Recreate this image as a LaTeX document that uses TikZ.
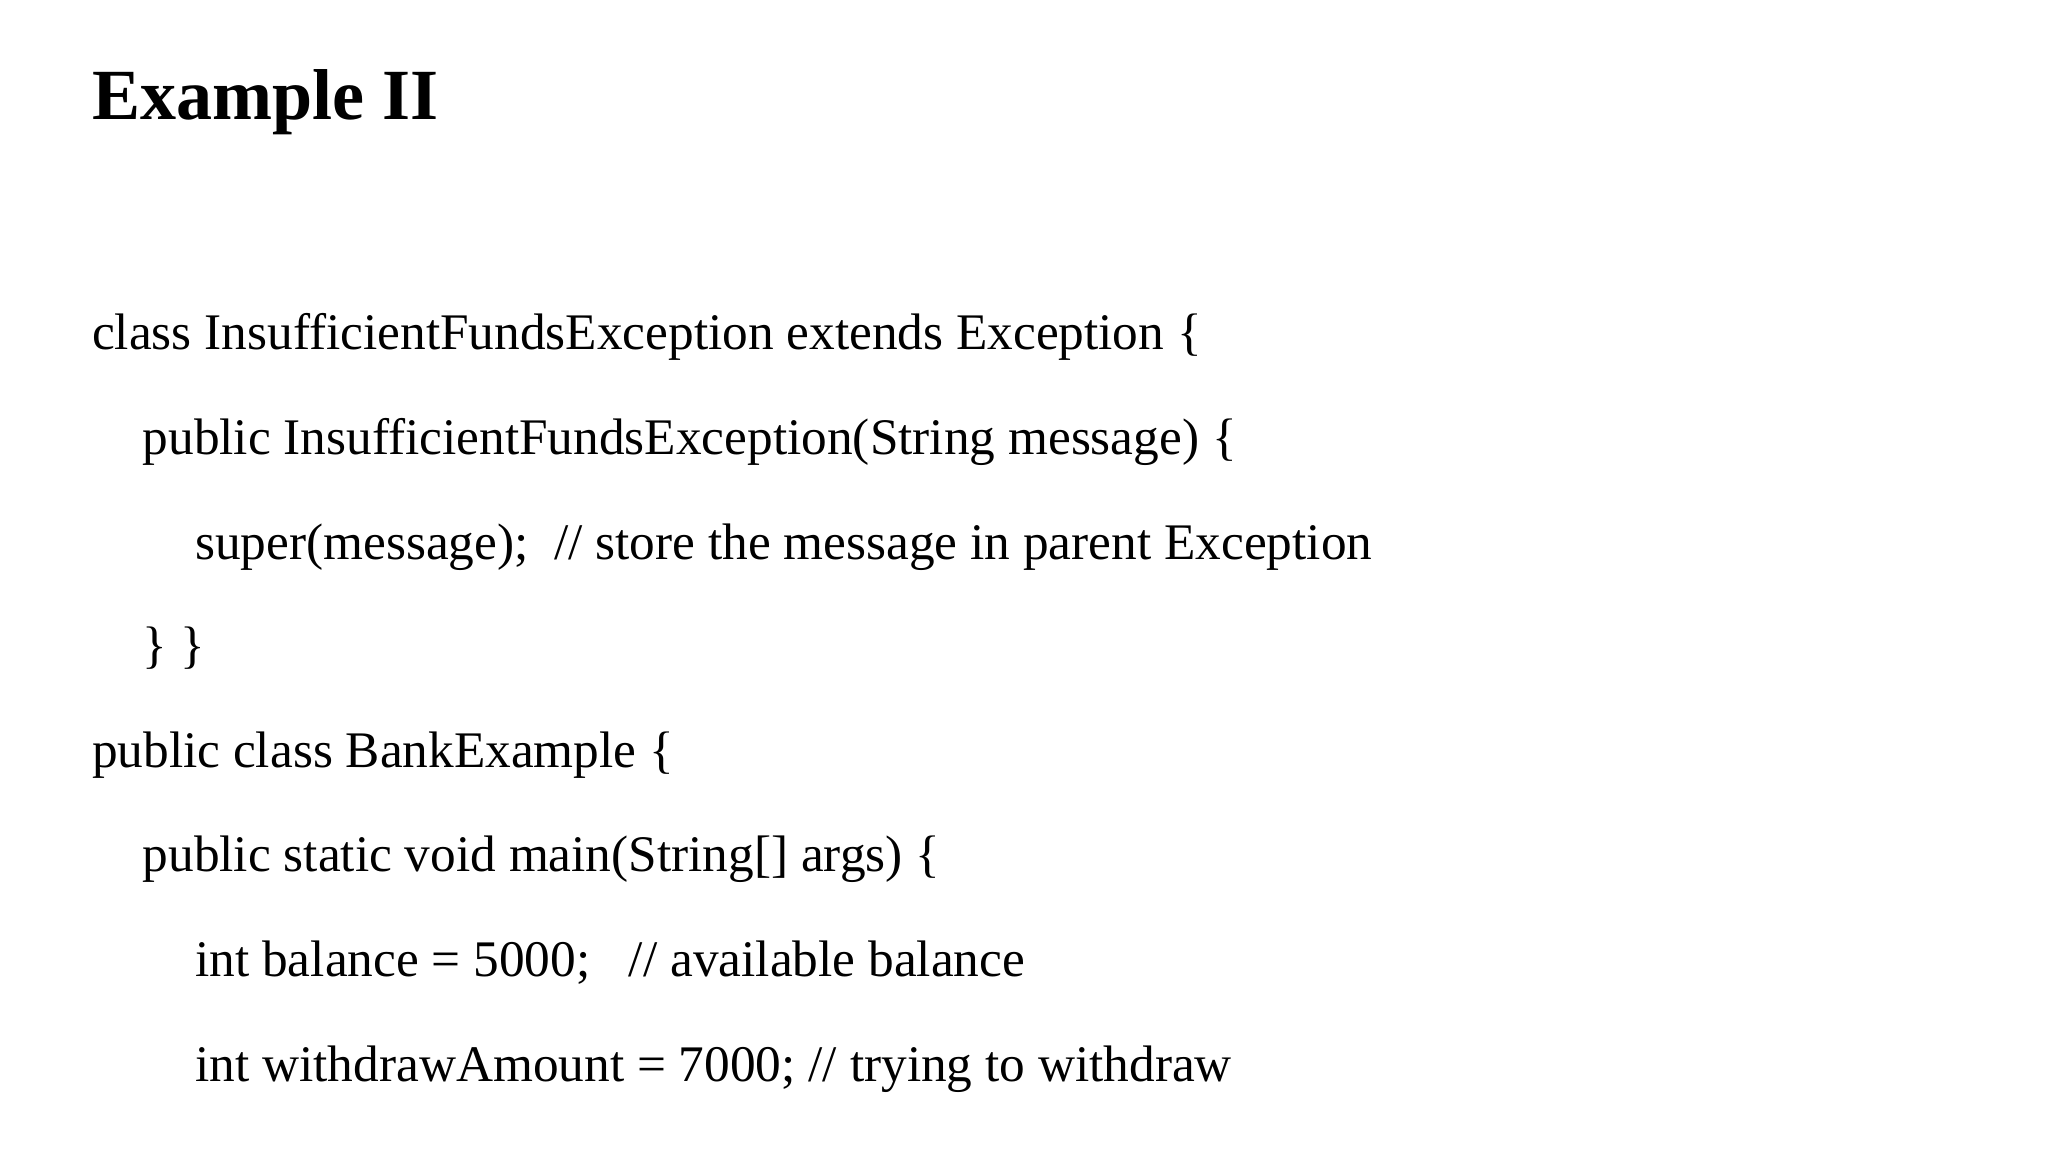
\documentclass[tikz,border=0pt]{standalone}
\usepackage{fontspec}
\setmainfont{Liberation Serif}
\begin{document}
\begin{tikzpicture}[x=1cm,y=1cm,
  codeline/.style={anchor=base west,inner sep=0pt,font=\fontsize{14.6}{17}\selectfont}]
\useasboundingbox[fill=white] (0,0) rectangle (20.48,-11.52);
\node[anchor=base west,inner sep=0pt,font=\fontsize{20.5}{24}\selectfont\bfseries] (title) at (0.914,-1.20) {Example II};
\node[codeline] (l1) at (0.914,-3.50) {class InsufficientFundsException extends Exception \{};
\node[codeline] (l2) at (1.42,-4.545) {public InsufficientFundsException(String message) \{};
\node[codeline] (l3) at (1.946,-5.59) {super(message);\ \ // store the message in parent Exception};
\node[codeline] (l4) at (1.42,-6.63) {\} \}};
\node[codeline] (l5) at (0.914,-7.68) {public class BankExample \{};
\node[codeline] (l6) at (1.42,-8.72) {public static void main(String[] args) \{};
\node[codeline] (l7) at (1.946,-9.77) {int balance = 5000;\ \ \ // available balance};
\node[codeline] (l8) at (1.946,-10.81) {int withdrawAmount = 7000; // trying to withdraw};
\end{tikzpicture}
\end{document}
